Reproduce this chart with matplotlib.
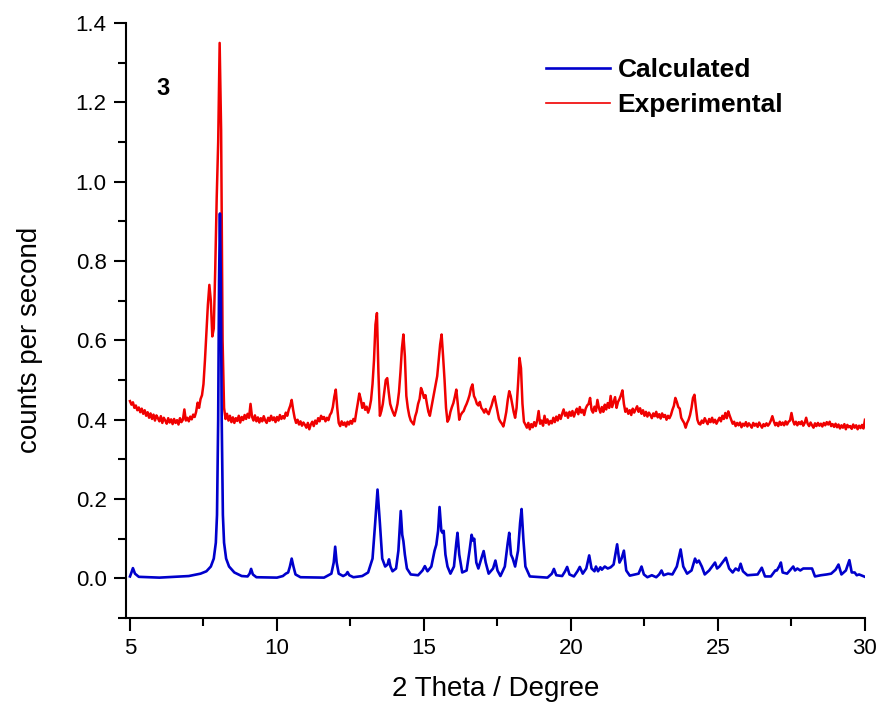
import matplotlib

matplotlib.use("Agg")

import matplotlib.pyplot as plt
import matplotlib.ticker as mticker
import numpy as np

plt.rcParams["font.family"] = ["Liberation Sans", "DejaVu Sans"]

# calculated pattern: (2theta, counts) points
CALC_POINTS = [
    (5.00, 0.005), (5.05, 0.015), (5.10, 0.026), (5.17, 0.012), (5.30, 0.004),
    (6.00, 0.002), (7.00, 0.006), (7.40, 0.012), (7.60, 0.018), (7.75, 0.030),
    (7.85, 0.050), (7.92, 0.090), (7.96, 0.160), (8.00, 0.400), (8.03, 0.750),
    (8.06, 0.920), (8.09, 0.750), (8.12, 0.400), (8.16, 0.160), (8.20, 0.090),
    (8.27, 0.050), (8.37, 0.030), (8.55, 0.015), (8.80, 0.006), (9.00, 0.005),
    (9.07, 0.012), (9.12, 0.024), (9.18, 0.010), (9.30, 0.003), (10.00, 0.002),
    (10.20, 0.006), (10.30, 0.012), (10.38, 0.015), (10.44, 0.030), (10.50, 0.050),
    (10.56, 0.030), (10.63, 0.010), (10.80, 0.003), (11.60, 0.002), (11.85, 0.012),
    (11.93, 0.040), (11.98, 0.080), (12.03, 0.040), (12.10, 0.012), (12.25, 0.006),
    (12.35, 0.010), (12.40, 0.016), (12.46, 0.008), (12.60, 0.003), (12.90, 0.006),
    (13.10, 0.015), (13.25, 0.050), (13.34, 0.140), (13.42, 0.224), (13.50, 0.140),
    (13.58, 0.050), (13.68, 0.030), (13.76, 0.035), (13.81, 0.048), (13.86, 0.030),
    (13.93, 0.018), (14.05, 0.025), (14.13, 0.070), (14.21, 0.170), (14.26, 0.110),
    (14.30, 0.094), (14.35, 0.060), (14.42, 0.025), (14.55, 0.010), (14.80, 0.008),
    (14.95, 0.020), (15.03, 0.031), (15.12, 0.018), (15.25, 0.030), (15.36, 0.070),
    (15.42, 0.085), (15.48, 0.120), (15.53, 0.180), (15.59, 0.120), (15.63, 0.115),
    (15.67, 0.120), (15.73, 0.060), (15.80, 0.030), (15.90, 0.012), (16.02, 0.030),
    (16.10, 0.090), (16.14, 0.115), (16.20, 0.060), (16.30, 0.015), (16.45, 0.020),
    (16.55, 0.070), (16.62, 0.110), (16.67, 0.095), (16.71, 0.100), (16.78, 0.040),
    (16.85, 0.025), (16.95, 0.050), (17.03, 0.069), (17.10, 0.040), (17.20, 0.012),
    (17.35, 0.025), (17.43, 0.045), (17.50, 0.020), (17.60, 0.006), (17.75, 0.030),
    (17.85, 0.090), (17.90, 0.115), (17.96, 0.060), (18.02, 0.050), (18.10, 0.030),
    (18.20, 0.070), (18.27, 0.140), (18.32, 0.175), (18.38, 0.100), (18.45, 0.030),
    (18.60, 0.005), (19.20, 0.002), (19.35, 0.012), (19.42, 0.024), (19.50, 0.008),
    (19.70, 0.006), (19.80, 0.018), (19.87, 0.029), (19.95, 0.010), (20.10, 0.005),
    (20.22, 0.018), (20.30, 0.029), (20.40, 0.012), (20.52, 0.025), (20.62, 0.058),
    (20.70, 0.025), (20.80, 0.018), (20.85, 0.030), (20.92, 0.018), (21.00, 0.028),
    (21.05, 0.022), (21.15, 0.030), (21.25, 0.025), (21.35, 0.028), (21.45, 0.035),
    (21.57, 0.086), (21.65, 0.040), (21.72, 0.050), (21.80, 0.070), (21.88, 0.020),
    (22.00, 0.007), (22.30, 0.012), (22.40, 0.030), (22.48, 0.010), (22.60, 0.003),
    (22.75, 0.008), (22.90, 0.003), (23.00, 0.010), (23.08, 0.020), (23.15, 0.008),
    (23.30, 0.012), (23.45, 0.010), (23.60, 0.030), (23.73, 0.073), (23.82, 0.030),
    (23.95, 0.012), (24.10, 0.020), (24.22, 0.050), (24.28, 0.040), (24.35, 0.045),
    (24.45, 0.030), (24.55, 0.010), (24.70, 0.020), (24.85, 0.035), (24.90, 0.040),
    (24.97, 0.025), (25.05, 0.030), (25.15, 0.040), (25.27, 0.052), (25.38, 0.025),
    (25.50, 0.015), (25.60, 0.025), (25.70, 0.020), (25.77, 0.037), (25.85, 0.018),
    (26.00, 0.008), (26.35, 0.010), (26.49, 0.027), (26.60, 0.005), (26.80, 0.005),
    (26.95, 0.020), (27.00, 0.020), (27.08, 0.030), (27.14, 0.040), (27.20, 0.015),
    (27.35, 0.012), (27.50, 0.025), (27.56, 0.030), (27.62, 0.020), (27.70, 0.025),
    (27.80, 0.020), (27.90, 0.025), (28.05, 0.025), (28.20, 0.025), (28.30, 0.005),
    (28.50, 0.008), (28.70, 0.010), (28.85, 0.012), (29.00, 0.022), (29.10, 0.035),
    (29.20, 0.010), (29.35, 0.020), (29.47, 0.046), (29.55, 0.015), (29.65, 0.015),
    (29.72, 0.008), (29.80, 0.010), (30.00, 0.004),
]

# experimental pattern, one value every 0.05 deg from 5.00 to 30.00
EXP_START = 5.0
EXP_STEP = 0.05
EXP_Y = [
    0.447, 0.438, 0.444, 0.430, 0.436, 0.424, 0.431, 0.419, 0.428, 0.415,  # 5.0
    0.424, 0.410, 0.419, 0.405, 0.416, 0.402, 0.413, 0.398, 0.411, 0.404,
    0.396, 0.409, 0.392, 0.405, 0.398, 0.390, 0.404, 0.393, 0.401, 0.389,  # 6.0
    0.402, 0.392, 0.399, 0.388, 0.404, 0.394, 0.400, 0.426, 0.398, 0.405,
    0.396, 0.408, 0.401, 0.413, 0.407, 0.420, 0.443, 0.430, 0.452, 0.462,  # 7.0
    0.490, 0.550, 0.620, 0.690, 0.740, 0.700, 0.610, 0.630, 0.780, 0.960,
    1.100, 1.350, 1.130, 0.600, 0.430, 0.402, 0.415, 0.398, 0.410, 0.394,  # 8.0
    0.406, 0.392, 0.404, 0.397, 0.410, 0.393, 0.407, 0.399, 0.412, 0.402,
    0.415, 0.405, 0.440, 0.408, 0.398, 0.411, 0.396, 0.406, 0.393, 0.404,  # 9.0
    0.396, 0.409, 0.398, 0.392, 0.405, 0.397, 0.410, 0.399, 0.406, 0.394,
    0.407, 0.398, 0.412, 0.402, 0.409, 0.403, 0.418, 0.410, 0.425, 0.435,  # 10.0
    0.450, 0.425, 0.405, 0.392, 0.400, 0.388, 0.396, 0.385, 0.393, 0.387,
    0.380, 0.392, 0.376, 0.388, 0.395, 0.384, 0.398, 0.390, 0.404, 0.396,  # 11.0
    0.410, 0.402, 0.407, 0.396, 0.405, 0.399, 0.412, 0.418, 0.432, 0.458,
    0.476, 0.430, 0.392, 0.384, 0.396, 0.387, 0.393, 0.383, 0.395, 0.388,  # 12.0
    0.397, 0.390, 0.402, 0.396, 0.420, 0.442, 0.466, 0.452, 0.430, 0.442,
    0.425, 0.433, 0.418, 0.430, 0.450, 0.490, 0.550, 0.640, 0.669, 0.520,  # 13.0
    0.410, 0.422, 0.440, 0.470, 0.500, 0.505, 0.470, 0.440, 0.428, 0.418,
    0.410, 0.423, 0.440, 0.470, 0.520, 0.580, 0.615, 0.560, 0.460, 0.430,  # 14.0
    0.410, 0.398, 0.393, 0.388, 0.408, 0.420, 0.440, 0.452, 0.480, 0.470,
    0.455, 0.462, 0.440, 0.420, 0.410, 0.430, 0.450, 0.470, 0.490, 0.510,  # 15.0
    0.550, 0.590, 0.615, 0.560, 0.500, 0.430, 0.395, 0.402, 0.420, 0.432,
    0.442, 0.458, 0.476, 0.440, 0.400, 0.412, 0.418, 0.422, 0.432, 0.440,  # 16.0
    0.450, 0.462, 0.480, 0.489, 0.460, 0.452, 0.440, 0.436, 0.445, 0.430,
    0.425, 0.418, 0.427, 0.419, 0.414, 0.426, 0.436, 0.450, 0.459, 0.440,  # 17.0
    0.420, 0.402, 0.395, 0.390, 0.383, 0.400, 0.420, 0.450, 0.472, 0.460,
    0.440, 0.420, 0.405, 0.430, 0.490, 0.556, 0.530, 0.440, 0.395, 0.388,  # 18.0
    0.380, 0.392, 0.376, 0.389, 0.381, 0.394, 0.384, 0.398, 0.422, 0.390,
    0.398, 0.385, 0.410, 0.392, 0.401, 0.388, 0.397, 0.391, 0.405, 0.394,  # 19.0
    0.408, 0.398, 0.412, 0.402, 0.415, 0.426, 0.410, 0.418, 0.405, 0.420,
    0.410, 0.422, 0.408, 0.419, 0.428, 0.414, 0.432, 0.418, 0.425, 0.412,  # 20.0
    0.428, 0.436, 0.440, 0.455, 0.425, 0.418, 0.433, 0.422, 0.450, 0.430,
    0.418, 0.432, 0.420, 0.438, 0.426, 0.442, 0.430, 0.460, 0.432, 0.445,  # 21.0
    0.457, 0.430, 0.445, 0.452, 0.462, 0.474, 0.440, 0.420, 0.428, 0.415,
    0.424, 0.412, 0.428, 0.418, 0.426, 0.434, 0.420, 0.429, 0.415, 0.424,  # 22.0
    0.410, 0.420, 0.408, 0.418, 0.412, 0.404, 0.416, 0.409, 0.420, 0.406,
    0.414, 0.403, 0.416, 0.407, 0.412, 0.400, 0.410, 0.404, 0.412, 0.425,  # 23.0
    0.435, 0.455, 0.445, 0.432, 0.428, 0.405, 0.398, 0.392, 0.380, 0.392,
    0.400, 0.412, 0.430, 0.455, 0.463, 0.430, 0.400, 0.390, 0.388, 0.398,  # 24.0
    0.392, 0.404, 0.396, 0.389, 0.402, 0.394, 0.405, 0.393, 0.400, 0.390,
    0.398, 0.405, 0.396, 0.410, 0.402, 0.417, 0.404, 0.421, 0.410, 0.400,  # 25.0
    0.390, 0.395, 0.384, 0.392, 0.386, 0.393, 0.381, 0.390, 0.385, 0.394,
    0.383, 0.391, 0.386, 0.380, 0.392, 0.385, 0.390, 0.382, 0.393, 0.386,  # 26.0
    0.380, 0.389, 0.384, 0.391, 0.385, 0.390, 0.398, 0.409, 0.396, 0.386,
    0.392, 0.384, 0.395, 0.387, 0.393, 0.386, 0.396, 0.388, 0.395, 0.398,  # 27.0
    0.417, 0.398, 0.388, 0.395, 0.386, 0.394, 0.389, 0.396, 0.385, 0.392,
    0.405, 0.390, 0.384, 0.393, 0.386, 0.380, 0.391, 0.384, 0.392, 0.385,  # 28.0
    0.390, 0.383, 0.392, 0.386, 0.394, 0.388, 0.395, 0.384, 0.389, 0.382,
    0.390, 0.381, 0.388, 0.378, 0.386, 0.380, 0.389, 0.376, 0.387, 0.381,  # 29.0
    0.384, 0.377, 0.388, 0.380, 0.386, 0.376, 0.385, 0.379, 0.387, 0.378,
    0.400,  # 30.0
]

SERIES_LABELS = ["Calculated", "Experimental"]
SAMPLE_LABEL = "3"
X_TICKS = [5, 10, 15, 20, 25, 30]
Y_TICKS = [0.0, 0.2, 0.4, 0.6, 0.8, 1.0, 1.2, 1.4]

calc_x, calc_y = zip(*CALC_POINTS)
exp_x = EXP_START + EXP_STEP * np.arange(len(EXP_Y))

fig = plt.figure(figsize=(8.81, 7.08), dpi=100)
ax = fig.add_axes([0.143, 0.127, 0.8388, 0.8404])

# experimental underneath, calculated on top (as in the original)
(l_exp,) = ax.plot(exp_x, EXP_Y, color="#f00000", linewidth=1.8, zorder=2)
(l_calc,) = ax.plot(calc_x, calc_y, color="#0000cc", linewidth=1.9, zorder=3)

ax.set_xlim(4.864, 30.0)
ax.set_ylim(-0.1, 1.4)

ax.set_xticks(X_TICKS)
ax.set_yticks(Y_TICKS)
ax.xaxis.set_minor_locator(mticker.MultipleLocator(2.5))
ax.yaxis.set_minor_locator(mticker.MultipleLocator(0.1))
ax.yaxis.set_major_formatter(mticker.FormatStrFormatter("%.1f"))
ax.tick_params(which="major", direction="out", length=9, width=1.5, labelsize=16, pad=5)
ax.tick_params(which="minor", direction="out", length=6, width=1.5)

for side in ("top", "right"):
    ax.spines[side].set_visible(False)
for side in ("left", "bottom"):
    ax.spines[side].set_linewidth(1.5)

ax.set_xlabel("2 Theta / Degree", fontsize=20)
ax.set_ylabel("counts per second", fontsize=20)
ax.xaxis.set_label_coords(0.5, -0.098)
ax.yaxis.set_label_coords(-0.112, 0.467)

ax.text(6.12, 1.236, SAMPLE_LABEL, fontsize=17, fontweight="bold", ha="center", va="center")

leg = ax.legend(
    [l_calc, l_exp],
    SERIES_LABELS,
    loc="upper left",
    bbox_to_anchor=(0.569, 0.941),
    frameon=False,
    prop={"weight": "bold", "size": 19},
    handlelength=2.4,
    handletextpad=0.3,
    labelspacing=0.42,
    borderaxespad=0,
    borderpad=0,
)
leg.get_lines()[1].set_linewidth(1.2)

fig.savefig("out.png", dpi=100)
